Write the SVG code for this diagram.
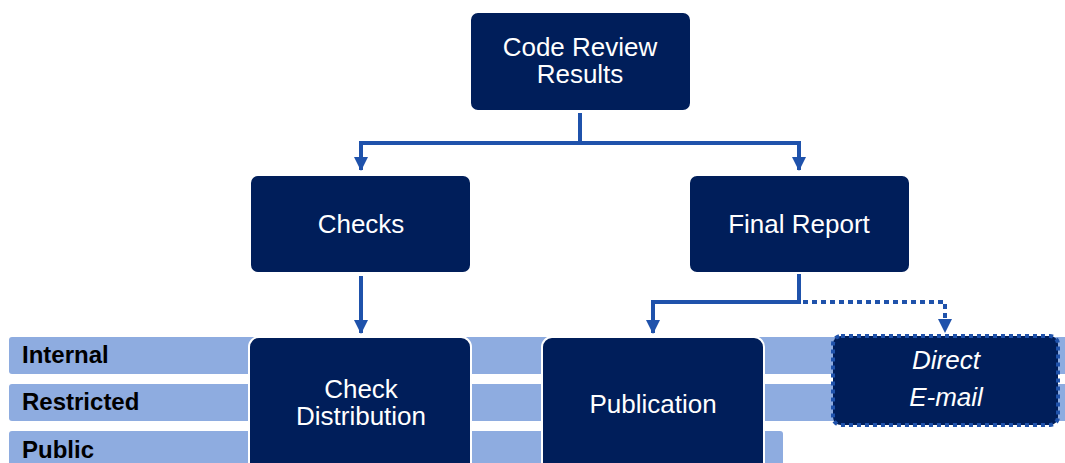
<svg xmlns="http://www.w3.org/2000/svg" width="1065" height="463" viewBox="0 0 1065 463">
<style>
.band{fill:#8EACE0;}
.bl{font-family:"Liberation Sans",Arial,sans-serif;font-weight:bold;font-size:24px;fill:#000;}
.node{fill:#001E5A;stroke:#fff;stroke-width:2;}
.nt{font-family:"Liberation Sans",Arial,sans-serif;font-size:26px;fill:#fff;text-anchor:middle;}
.c{fill:none;stroke:#1F52AB;stroke-width:4;}
.d{fill:none;stroke:#1F52AB;stroke-width:4;stroke-dasharray:5 4;}
</style>
<defs>
<marker id="ah" viewBox="0 0 14 14" refX="13" refY="7" markerWidth="14" markerHeight="14" markerUnits="userSpaceOnUse" orient="auto">
<path d="M0,0 L14,7 L0,14 Z" fill="#1F52AB"/>
</marker>
</defs>
<g id="bands">
<rect class="band" x="9" y="337" width="1070" height="37" rx="3"/>
<rect class="band" x="9" y="384" width="1070" height="37" rx="3"/>
<rect class="band" x="9" y="431" width="774" height="40" rx="3"/>
<text class="bl" x="22" y="363">Internal</text>
<text class="bl" x="22" y="410">Restricted</text>
<text class="bl" x="22" y="458">Public</text>
</g>
<g id="connectors">
<path class="c" d="M580,113 V143 M359,143 H801"/>
<path class="c" d="M361,143 V170" marker-end="url(#ah)"/>
<path class="c" d="M799,143 V170" marker-end="url(#ah)"/>
<path class="c" d="M361,276 V333" marker-end="url(#ah)"/>
<path class="c" d="M799,274 V302 H653 V333" marker-end="url(#ah)"/>
<path class="d" d="M803,302 H945 V318"/>
<path d="M938,319 L952,319 L945,333 Z" fill="#1F52AB"/>
</g>
<g id="code-review">
<rect class="node" x="470" y="12" width="221" height="99" rx="8"/>
<text class="nt" x="580" y="56">Code Review</text>
<text class="nt" x="580" y="83">Results</text>
</g>
<g id="checks">
<rect class="node" x="250" y="175" width="221" height="98" rx="8"/>
<text class="nt" x="361" y="233">Checks</text>
</g>
<g id="final-report">
<rect class="node" x="689" y="175" width="221" height="98" rx="8"/>
<text class="nt" x="799" y="233">Final Report</text>
</g>
<g id="check-distribution">
<rect class="node" x="249" y="337" width="222" height="140" rx="10"/>
<text class="nt" x="361" y="398">Check</text>
<text class="nt" x="361" y="425">Distribution</text>
</g>
<g id="publication">
<rect class="node" x="542" y="337" width="222" height="140" rx="10"/>
<text class="nt" x="653" y="413">Publication</text>
</g>
<g id="direct-email">
<rect x="833" y="336" width="225" height="89" rx="8" fill="#001E5A" stroke="#1F52AB" stroke-width="4" stroke-dasharray="4 4"/>
<text class="nt" x="946" y="369" font-style="italic" font-size="27">Direct</text>
<text class="nt" x="946" y="406" font-style="italic" font-size="27">E-mail</text>
</g>
</svg>
